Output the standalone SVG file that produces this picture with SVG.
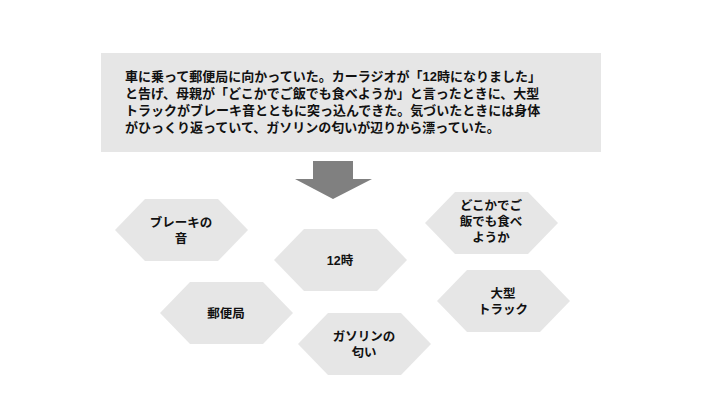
<svg xmlns="http://www.w3.org/2000/svg" width="720" height="405" viewBox="0 0 720 405">
<style>
text{font-family:"Liberation Sans","Noto Sans CJK JP",sans-serif;font-weight:bold;fill:#111;}
.t{font-size:13px}
.h{fill:#e6e6e6}
.n{font-size:12.5px;text-anchor:middle}
</style>
<defs><polygon id="hex" class="h" points="0,31 30,0 103,0 133,31 103,62 30,62"/></defs>
<rect width="720" height="405" fill="#fff"/>
<g id="story">
<rect x="101" y="53" width="500" height="99" fill="#e6e6e6"/>
<text class="t" x="125" y="81">車に乗って郵便局に向かっていた。カーラジオが「12時になりました」</text>
<text class="t" x="125" y="98">と告げ、母親が「どこかでご飯でも食べようか」と言ったときに、大型</text>
<text class="t" x="125" y="115">トラックがブレーキ音とともに突っ込んできた。気づいたときには身体</text>
<text class="t" x="125" y="132">がひっくり返っていて、ガソリンの匂いが辺りから漂っていた。</text>
</g>
<g id="connectors">
<polygon points="313,161 353,161 353,179 372,179 333,199 295,179 313,179" fill="#808080"/>
</g>
<g id="n1"><use href="#hex" x="115" y="199"/><text class="n" x="181" y="227">ブレーキの</text><text class="n" x="181" y="243">音</text></g>
<g id="n2"><use href="#hex" x="274" y="229"/><text class="n" x="340" y="265">12時</text></g>
<g id="n3"><use href="#hex" x="425" y="192"/><text class="n" x="491" y="210">どこかでご</text><text class="n" x="491" y="226">飯でも食べ</text><text class="n" x="491" y="242">ようか</text></g>
<g id="n4"><use href="#hex" x="160" y="282"/><text class="n" x="226" y="318">郵便局</text></g>
<g id="n5"><use href="#hex" x="437" y="270"/><text class="n" x="503" y="298">大型</text><text class="n" x="503" y="314">トラック</text></g>
<g id="n6"><use href="#hex" x="298" y="313"/><text class="n" x="364" y="341">ガソリンの</text><text class="n" x="364" y="357">匂い</text></g>
</svg>
